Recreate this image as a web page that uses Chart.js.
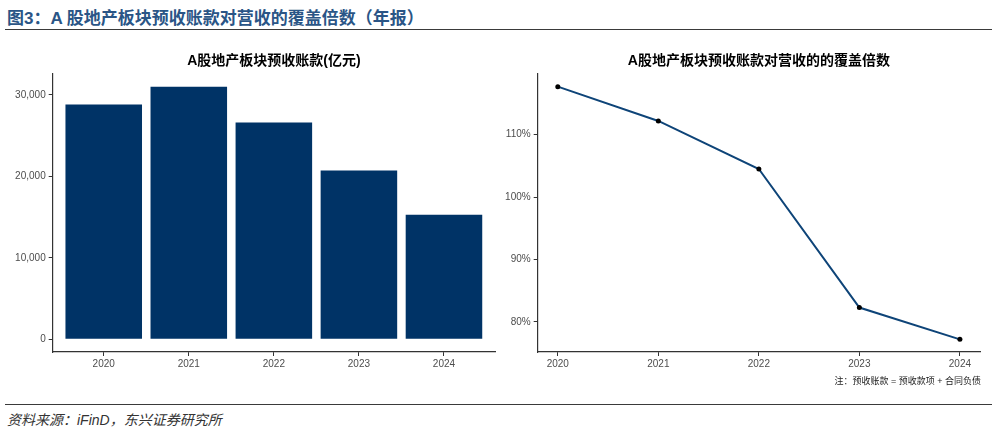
<!DOCTYPE html>
<html>
<head>
<meta charset="utf-8">
<script src="https://cdn.jsdelivr.net/npm/chart.js@4"></script>
<style>
  body { margin: 0; width: 997px; height: 433px; background: #fff; position: relative; overflow: hidden;
         font-family: 'Liberation Sans', 'Noto Sans CJK SC', sans-serif; }
  #head { position: absolute; left: 7px; top: 4px; font: bold 17px 'Liberation Sans', 'Noto Sans CJK SC', sans-serif; color: #2a5586; white-space: nowrap; }
  .rule { position: absolute; left: 5px; width: 987px; height: 0; border-top: 1.5px solid #3a3a3a; }
  .box { position: absolute; top: 45px; height: 332px; }
  #note { position: absolute; right: 16px; top: 374px; font-size: 9px; color: #222; white-space: nowrap; }
  #src { position: absolute; left: 7px; top: 409px; font-size: 14px; font-style: italic; color: #333; white-space: nowrap; }
</style>
</head>
<body>
<div id="head">图3：A 股地产板块预收账款对营收的覆盖倍数（年报）</div>
<div class="rule" style="top:29px"></div>
<div class="box" style="left:0;width:500px"><canvas id="barChart"></canvas></div>
<div class="box" style="left:497px;width:500px"><canvas id="lineChart"></canvas></div>
<div id="note">注：预收账款 = 预收款项 + 合同负债</div>
<div class="rule" style="top:404px"></div>
<div id="src">资料来源：iFinD，东兴证券研究所</div>
<script>
// 数据
const years = [2020, 2021, 2022, 2023, 2024];
const advanceReceipts = [28800, 31000, 26600, 20700, 15300];   // 亿元
const coverageRatio = [117.7, 112.2, 104.5, 82.3, 77.2];       // %
const barTicks = [0, 10000, 20000, 30000];
const ratioTicks = [80, 90, 100, 110];

Chart.defaults.font.family = "'Liberation Sans', 'Noto Sans CJK SC', sans-serif";
Chart.defaults.animation = false;

// ggplot 风格的坐标轴扩展
function expand(lo, hi, f) {
  const d = (hi - lo) * f;
  return [lo - d, hi + d];
}
const barY = expand(Math.min(0, ...advanceReceipts), Math.max(...advanceReceipts), 0.05);
const lineY = expand(Math.min(...coverageRatio), Math.max(...coverageRatio), 0.05);
const lineX = expand(years[0], years[years.length - 1], 0.05);

const axisColor = '#333';
const tickFont = { size: 10 };
function axisBase(tickList, fmt) {
  return {
    type: 'linear',
    offset: false,
    grid: { drawOnChartArea: false, drawTicks: true, tickLength: 4, color: axisColor, offset: false },
    border: { display: true, color: axisColor, width: 1.2 },
    ticks: { color: '#4d4d4d', font: tickFont, padding: 2, callback: fmt, autoSkip: false, maxRotation: 0 },
    afterBuildTicks: s => { s.ticks = tickList.map(v => ({ value: v })); }
  };
}
function titleOpt(text) {
  return {
    display: true, text: text, fullSize: false, color: '#000',
    font: { size: 14, weight: 'bold' },
    padding: { top: 7.6, bottom: 4.6 }
  };
}

// 左：柱状图
let barCtx = document.getElementById('barChart');
let barX = axisBase(years, v => String(v));
barX.min = years[0] - 0.6;
barX.max = years[years.length - 1] + 0.6;
barX.afterFit = s => { s.height = 25; };
let barYAxis = axisBase(barTicks, v => v.toLocaleString('en-US'));
barYAxis.min = barY[0];
barYAxis.max = barY[1];
barYAxis.ticks.padding = 3;
barYAxis.afterFit = s => { s.width = 52.7; };
new Chart(barCtx, {
  type: 'bar',
  data: {
    datasets: [{
      data: years.map((y, i) => ({ x: y, y: advanceReceipts[i] })),
      backgroundColor: '#003366',
      barPercentage: 0.9,
      categoryPercentage: 1
    }]
  },
  options: {
    responsive: true, maintainAspectRatio: false,
    layout: { padding: { left: 0, right: 5, top: 0, bottom: 0 } },
    plugins: { legend: { display: false }, tooltip: { enabled: false }, title: titleOpt('A股地产板块预收账款(亿元)') },
    scales: { x: barX, y: barYAxis }
  }
});

// 右：折线图
let lineCtx = document.getElementById('lineChart');
let lnX = axisBase(years, v => String(v));
lnX.min = lineX[0];
lnX.max = lineX[1];
lnX.afterFit = s => { s.height = 25; };
let lnY = axisBase(ratioTicks, v => v + '%');
lnY.min = lineY[0];
lnY.max = lineY[1];
lnY.ticks.padding = 3;
lnY.afterFit = s => { s.width = 40.7; };
new Chart(lineCtx, {
  type: 'line',
  data: {
    datasets: [{
      data: years.map((y, i) => ({ x: y, y: coverageRatio[i] })),
      borderColor: '#0e4478',
      borderWidth: 2,
      pointRadius: 2.5,
      pointBackgroundColor: '#000',
      pointBorderWidth: 0,
      tension: 0
    }]
  },
  options: {
    responsive: true, maintainAspectRatio: false,
    layout: { padding: { left: 0, right: 17, top: 0, bottom: 0 } },
    plugins: { legend: { display: false }, tooltip: { enabled: false }, title: titleOpt('A股地产板块预收账款对营收的的覆盖倍数') },
    scales: { x: lnX, y: lnY }
  }
});
</script>
</body>
</html>
